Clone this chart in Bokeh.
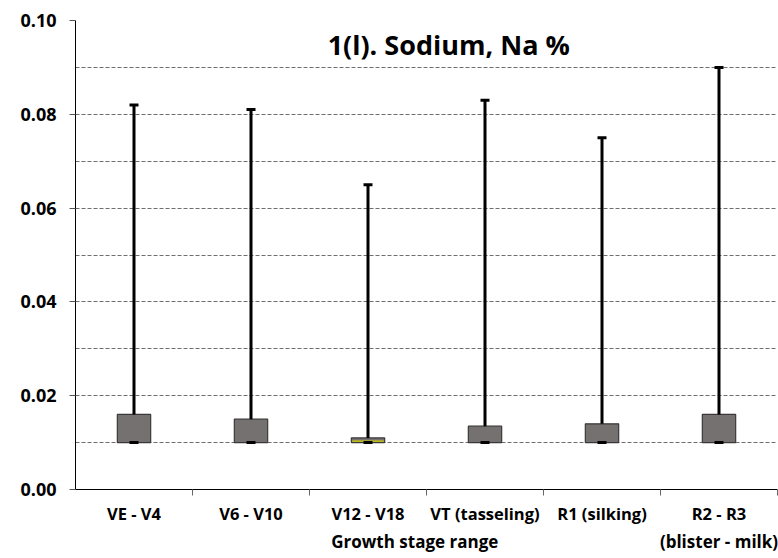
from bokeh.plotting import figure
from bokeh.models import (ColumnDataSource, Range1d, FixedTicker, LinearAxis,
                          Label, CustomJSTickFormatter)
from bokeh.embed import file_html
from bokeh.resources import INLINE

# ---- data ----
categories = ["VE - V4", "V6 - V10", "V12 - V18", "VT (tasseling)",
              "R1 (silking)", "R2 - R3\n(blister - milk)"]
box_low = [0.010, 0.010, 0.010, 0.010, 0.010, 0.010]
box_high = [0.016, 0.015, 0.011, 0.0135, 0.014, 0.016]
max_vals = [0.082, 0.081, 0.065, 0.083, 0.075, 0.090]
y_ticks = [0.00, 0.02, 0.04, 0.06, 0.08, 0.10]
y_minor = [0.01, 0.03, 0.05, 0.07, 0.09]
title_text = "1(l). Sodium, Na %"
x_title = "Growth stage range"

n = len(categories)
centers = [i + 0.5 for i in range(n)]
line1 = [c.split("\n")[0] for c in categories]
line2 = [c.split("\n")[1] if "\n" in c else "" for c in categories]
stripe_top = [lo + (hi - lo) * 0.45 if (hi - lo) < 0.002 else lo
              for lo, hi in zip(box_low, box_high)]
stripe_bot = [lo + (hi - lo) * 0.2 if (hi - lo) < 0.002 else lo
              for lo, hi in zip(box_low, box_high)]

src = ColumnDataSource(dict(x=centers, lo=box_low, hi=box_high, mx=max_vals,
                            st=stripe_top, sb=stripe_bot))

FONT = "Open Sans"

p = figure(width=778, height=558, output_backend="svg", toolbar_location=None,
           x_range=Range1d(0, n), y_range=Range1d(0, 0.1),
           min_border_left=75, min_border_right=1, min_border_top=20,
           min_border_bottom=69, x_axis_type=None)
p.outline_line_color = None
p.background_fill_color = "white"

# y axis
p.yaxis.ticker = FixedTicker(ticks=y_ticks, minor_ticks=y_minor)
p.yaxis.formatter = CustomJSTickFormatter(code="return tick.toFixed(2);")
p.yaxis.major_label_text_font = FONT
p.yaxis.major_label_text_font_style = "bold"
p.yaxis.major_label_text_font_size = "18px"
p.yaxis.major_label_text_color = "black"
p.yaxis.major_label_standoff = 13
p.yaxis.major_tick_out = 6
p.yaxis.major_tick_in = 0
p.yaxis.minor_tick_out = 0
p.yaxis.minor_tick_in = 0
p.yaxis.axis_line_color = "black"
p.yaxis.major_tick_line_color = "#555555"

# x axis 1: tick marks at category boundaries, no labels
xa = LinearAxis(ticker=FixedTicker(ticks=list(range(1, n + 1)), minor_ticks=[]),
                major_label_overrides={i: "" for i in range(0, n + 1)},
                major_tick_out=6, major_tick_in=0,
                minor_tick_out=0, minor_tick_in=0,
                axis_line_color="black", major_tick_line_color="#666666",
                major_label_text_font_size="1px", major_label_standoff=0)
p.add_layout(xa, "below")

# x axis 2: category names (first line)
xb = LinearAxis(ticker=FixedTicker(ticks=centers, minor_ticks=[]),
                major_label_overrides={c: t for c, t in zip(centers, line1)},
                major_tick_out=0, major_tick_in=0,
                minor_tick_out=0, minor_tick_in=0,
                axis_line_color=None, major_label_standoff=6,
                major_label_text_font=FONT, major_label_text_font_style="bold",
                major_label_text_font_size="16.5px",
                major_label_text_color="black")
p.add_layout(xb, "below")

# x axis 3: second line of names and the axis title
xt_pos = 2.9
third = {c: t for c, t in zip(centers, line2) if t}
third[xt_pos] = x_title
xc = LinearAxis(ticker=FixedTicker(ticks=sorted(third.keys()), minor_ticks=[]),
                major_label_overrides=third,
                major_tick_out=0, major_tick_in=0,
                minor_tick_out=0, minor_tick_in=0,
                axis_line_color=None, major_label_standoff=2,
                major_label_text_font=FONT, major_label_text_font_style="bold",
                major_label_text_font_size="17px",
                major_label_text_color="black")
p.add_layout(xc, "below")

# grid
p.xgrid.visible = False
p.ygrid.ticker = FixedTicker(ticks=y_ticks, minor_ticks=y_minor)
p.ygrid.grid_line_color = "#6f6f6f"
p.ygrid.grid_line_dash = "4 2"
p.ygrid.minor_grid_line_color = "#6f6f6f"
p.ygrid.minor_grid_line_dash = "4 2"

# boxes
p.vbar(x="x", bottom="lo", top="hi", width=0.285, source=src,
       fill_color="#767171", line_color="#3b3838", line_width=1.2)
p.vbar(x="x", bottom="sb", top="st", width=0.27, source=src,
       fill_color="#d6d600", line_color=None)
# whiskers
p.segment(x0="x", y0="hi", x1="x", y1="mx", source=src,
          line_color="black", line_width=3)
p.rect(x="x", y="mx", width=9, height=3, width_units="screen",
       height_units="screen", source=src, fill_color="black", line_color=None)
p.rect(x="x", y="lo", width=9, height=3, width_units="screen",
       height_units="screen", source=src, fill_color="black", line_color=None)

# chart title inside plot
p.add_layout(Label(x=3.19, y=0.0949, text=title_text, text_align="center",
                   text_baseline="middle", text_font=FONT,
                   text_font_style="bold", text_font_size="27px",
                   text_color="black"))

open("out.html", "w").write(file_html(p, INLINE))
